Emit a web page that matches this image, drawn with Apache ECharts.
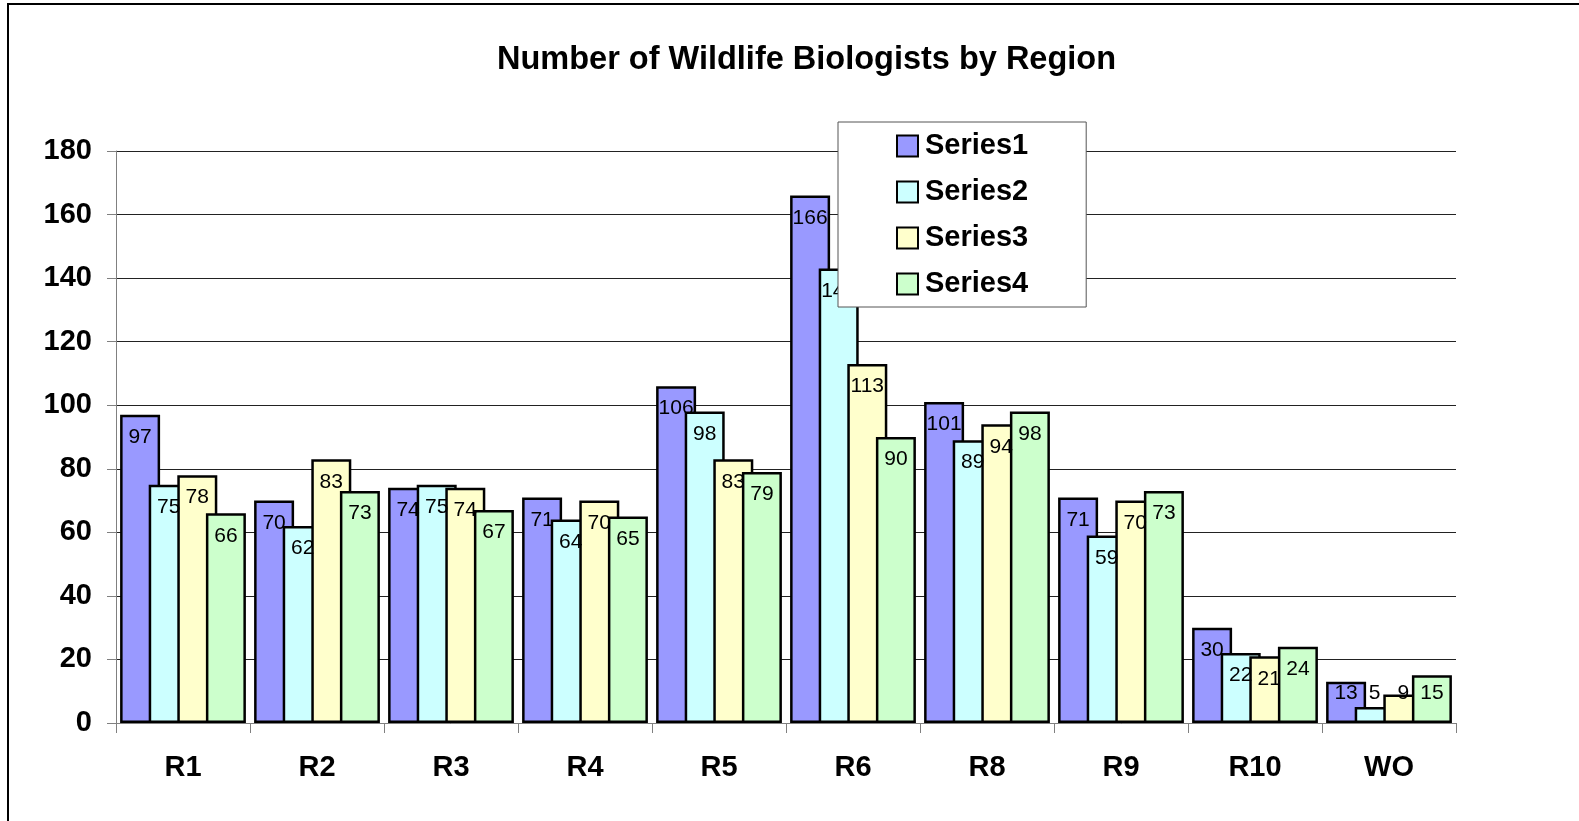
<!DOCTYPE html>
<html>
<head>
<meta charset="utf-8">
<script src="https://cdn.jsdelivr.net/npm/echarts@6/dist/echarts.min.js"></script>
<style>
html,body{margin:0;padding:0;background:#fff;}
#c{width:1579px;height:821px;}
</style>
</head>
<body>
<div id="c"></div>
<script>
var categories = ['R1','R2','R3','R4','R5','R6','R8','R9','R10','WO'];
var series1 = [97, 70, 74, 71, 106, 166, 101, 71, 30, 13];
var series2 = [75, 62, 75, 64, 98, 143, 89, 59, 22, 5];
var series3 = [78, 83, 74, 70, 83, 113, 94, 70, 21, 9];
var series4 = [66, 73, 67, 65, 79, 90, 98, 73, 24, 15];
var seriesNames = ['Series1','Series2','Series3','Series4'];
var yTicks = [0, 20, 40, 60, 80, 100, 120, 140, 160, 180];

var colors = ['#9999FF', '#CCFFFF', '#FFFFCC', '#CCFFCC'];
var font = '"Liberation Sans", Arial, sans-serif';
var allData = [series1, series2, series3, series4];

var chart = echarts.init(document.getElementById('c'), null, {renderer: 'canvas'});

// Short bars: label is held just above the axis (as in the original)
function toItem(v) {
  if (v < 16) {
    return {value: v, label: {position: 'insideBottom', distance: 19}};
  }
  return v;
}

var series = allData.map(function (d, i) {
  return {
    name: seriesNames[i],
    type: 'bar',
    data: d.map(toItem),
    barWidth: 40,
    barGap: '-28.5%',
    itemStyle: {color: colors[i], borderColor: '#000', borderWidth: 2.5},
    label: {
      show: true,
      position: 'insideTop',
      distance: 12,
      color: '#000',
      fontFamily: font,
      fontSize: 21,
      fontWeight: 'normal'
    },
    emphasis: {disabled: true},
    animation: false
  };
});

chart.setOption({
  animation: false,
  backgroundColor: '#fff',
  title: {
    text: 'Number of Wildlife Biologists by Region',
    left: 497,
    top: 44,
    padding: 0,
    textStyle: {fontFamily: font, fontSize: 32.5, fontWeight: 'bold', color: '#000'}
  },
  legend: {
    orient: 'vertical',
    left: 838,
    top: 122,
    padding: [1, 58, 0, 58],
    itemWidth: 21,
    itemHeight: 21,
    itemGap: 0,
    icon: 'rect',
    backgroundColor: '#fff',
    borderColor: '#555',
    borderWidth: 1,
    z: 10,
    textStyle: {fontFamily: font, fontSize: 29, fontWeight: 'bold', color: '#000', lineHeight: 46, padding: [0, 0, 0, 2]},
    data: seriesNames
  },
  graphic: [{
    type: 'rect',
    shape: {x: 8, y: 4, width: 1700, height: 1000},
    style: {fill: 'none', stroke: '#000', lineWidth: 2},
    silent: true,
    z: 0
  }],
  grid: {left: 116, right: 123, top: 151, bottom: 98, containLabel: false},
  xAxis: {
    type: 'category',
    data: categories,
    axisLine: {show: true, lineStyle: {color: '#808080', width: 1}},
    axisTick: {show: true, length: 10, lineStyle: {color: '#808080'}},
    axisLabel: {fontFamily: font, fontSize: 29, fontWeight: 'bold', color: '#000', margin: 30},
    splitLine: {show: false}
  },
  yAxis: {
    type: 'value',
    min: 0,
    max: 180,
    interval: 20,
    axisLine: {show: true, lineStyle: {color: '#808080', width: 1}},
    axisTick: {show: true, length: 9, lineStyle: {color: '#808080'}},
    axisLabel: {
      fontFamily: font, fontSize: 29, fontWeight: 'bold', color: '#000', margin: 24,
      formatter: function (v) { return yTicks.indexOf(v) >= 0 ? String(v) : ''; }
    },
    splitLine: {show: true, lineStyle: {color: '#222', width: 1}}
  },
  series: series
});
</script>
</body>
</html>
